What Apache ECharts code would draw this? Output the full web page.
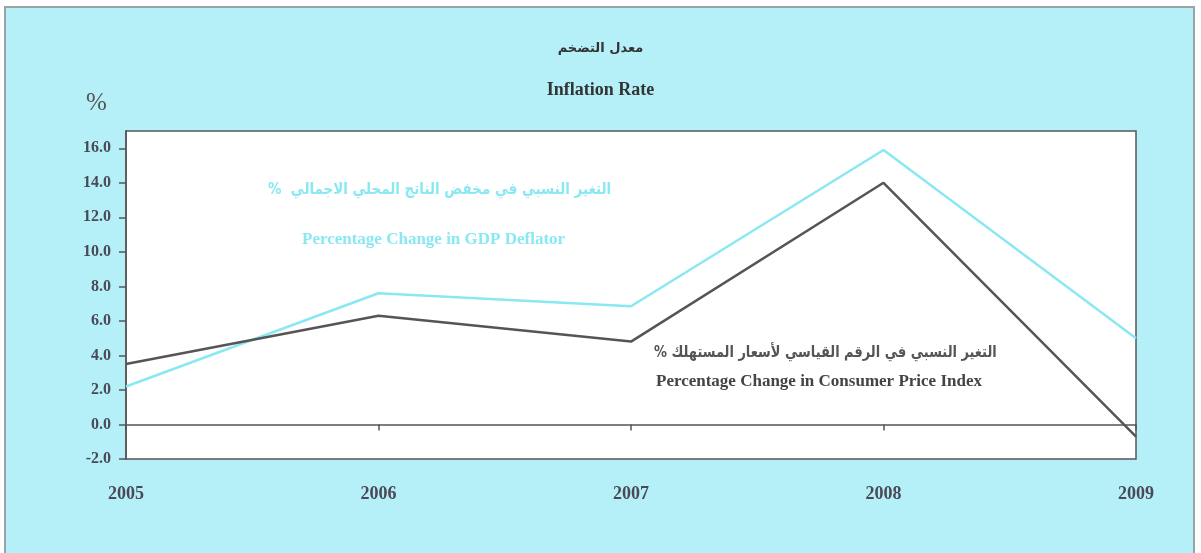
<!DOCTYPE html>
<html>
<head>
<meta charset="utf-8">
<script src="https://cdn.jsdelivr.net/npm/echarts@6/dist/echarts.min.js"></script>
<style>
  html, body { margin: 0; padding: 0; background: #fff; }
  #wrap { position: relative; width: 1201px; height: 553px; overflow: hidden; }
  #frame { position: absolute; left: 4px; top: 6px; width: 1187px; height: 560px;
           background: #b5f0f8; border: 2px solid #9aa4a8; }
  #main { position: absolute; left: 0; top: 0; width: 1201px; height: 553px; }
</style>
</head>
<body>
<div id="wrap">
  <div id="frame"></div>
  <div id="main"></div>
</div>
<script>
var years = ['2005', '2006', '2007', '2008', '2009'];
var cpi = [3.5, 6.3, 4.8, 14.0, -0.7];
var gdpDeflator = [2.2, 7.6, 6.85, 15.9, 5.0];
var yTicks = [-2, 0, 2, 4, 6, 8, 10, 12, 14, 16];

var serif = '"Liberation Serif", "DejaVu Serif", serif';
var arabic = '"DejaVu Sans", "Noto Sans", sans-serif';
var textGray = '#4a4a56';
var cyan = '#8ae8f2';
var dark = '#555558';

var myChart = echarts.init(document.getElementById('main'));

var option = {
    backgroundColor: 'transparent',
    animation: false,
    title: [
        {
            text: 'معدل التضخم',
            left: 'center',
            top: 37,
            textStyle: { fontFamily: arabic, fontSize: 13, fontWeight: 'bold', color: '#333' }
        },
        {
            text: 'Inflation Rate',
            left: 'center',
            top: 76,
            textStyle: { fontFamily: serif, fontSize: 18, fontWeight: 'bold', color: '#333' }
        },
        {
            text: '%',
            left: 81,
            top: 86,
            textStyle: { fontFamily: serif, fontSize: 25, fontWeight: 'normal', color: '#555' }
        }
    ],
    grid: {
        left: 126,
        right: 65,
        top: 131,
        bottom: 94,
        show: true,
        backgroundColor: '#ffffff',
        borderColor: dark,
        borderWidth: 1.5
    },
    xAxis: {
        type: 'category',
        data: years,
        boundaryGap: false,
        axisLine: { onZero: true, lineStyle: { color: dark, width: 1.5 } },
        axisTick: { show: true, length: 6, lineStyle: { color: dark, width: 1.5 } },
        axisLabel: {
            margin: 26,
            fontFamily: serif,
            fontSize: 18,
            fontWeight: 'bold',
            color: textGray
        },
        splitLine: { show: false }
    },
    yAxis: {
        type: 'value',
        min: -2,
        max: 17,
        interval: 2,
        axisLine: { show: true, lineStyle: { color: dark, width: 1.5 } },
        axisTick: {
            show: true,
            length: 7,
            customValues: yTicks,
            lineStyle: { color: dark, width: 1.5 }
        },
        axisLabel: {
            customValues: yTicks,
            margin: 15,
            fontFamily: serif,
            fontSize: 16,
            fontWeight: 'bold',
            color: textGray,
            formatter: function (v) { return v.toFixed(1); }
        },
        splitLine: { show: false }
    },
    series: [
        {
            name: 'Percentage Change in GDP Deflator',
            type: 'line',
            data: gdpDeflator,
            showSymbol: false,
            lineStyle: { color: cyan, width: 2.5 },
            z: 3
        },
        {
            name: 'Percentage Change in Consumer Price Index',
            type: 'line',
            data: cpi,
            showSymbol: false,
            lineStyle: { color: dark, width: 2.5 },
            z: 4
        }
    ],
    graphic: [
        {
            type: 'text',
            x: 268,
            y: 182,
            scaleX: 0.84,
            style: {
                text: '%  التغير النسبي في مخفض الناتج المحلي الاجمالي',
                font: 'bold 16px ' + arabic,
                fill: cyan
            }
        },
        {
            type: 'text',
            x: 302,
            y: 231,
            style: {
                text: 'Percentage Change in GDP Deflator',
                font: 'bold 17px ' + serif,
                fill: cyan
            }
        },
        {
            type: 'text',
            x: 654,
            y: 345,
            scaleX: 0.81,
            style: {
                text: '% التغير النسبي في الرقم القياسي لأسعار المستهلك',
                font: 'bold 16px ' + arabic,
                fill: '#555'
            }
        },
        {
            type: 'text',
            x: 656,
            y: 373,
            style: {
                text: 'Percentage Change in Consumer Price Index',
                font: 'bold 17px ' + serif,
                fill: '#444'
            }
        }
    ]
};

myChart.setOption(option);
</script>
</body>
</html>
